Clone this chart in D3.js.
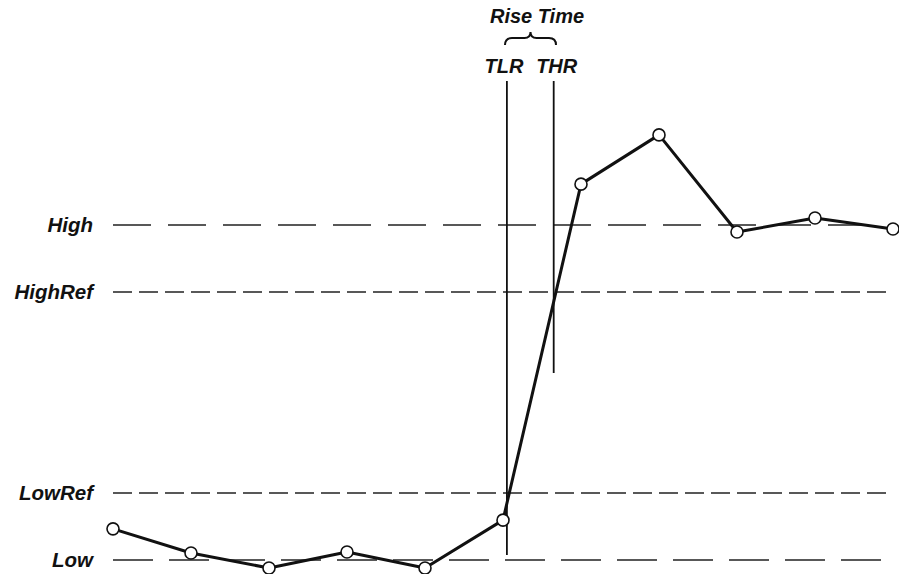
<!DOCTYPE html>
<html>
<head>
<meta charset="utf-8">
<script src="https://cdn.jsdelivr.net/npm/d3@7"></script>
<style>
  body { margin: 0; background: #fff; }
  text { font-family: "Liberation Sans", Arial, sans-serif; font-weight: bold; font-style: italic; fill: #111; }
</style>
</head>
<body>
<div id="chart"></div>
<script>
// sample values (Low = 0, High = 100)
var samples = [9.3, 2.1, -2.4, 2.4, -2.4, 11.9, 112.2, 126.9, 97.9, 102.1, 98.8];

// reference levels
var levelNames = ["High", "HighRef", "LowRef", "Low"];
var levelValues = [100, 80, 20, 0];
var levelDash = ["38,17", "19,7", "19,7", "40,16"];

// time markers (sample index units) and their lower ends
var markerNames = ["TLR", "THR"];
var markerTimes = [5.05, 5.65];
var markerBottoms = [1.5, 55.8];
var markerTop = 143;

var w = 899, h = 574;

var svg = d3.select("#chart").append("svg")
  .attr("width", w)
  .attr("height", h);

var x = d3.scaleLinear().domain([0, 10]).range([113, 893]);
var y = d3.scaleLinear().domain([0, 100]).range([560, 225]);

// dashed level lines
levelNames.forEach(function(name, i) {
  svg.append("line")
    .attr("x1", x(0))
    .attr("x2", x(10) - (i == 0 ? 12 : i == 3 ? 8 : 0))
    .attr("y1", y(levelValues[i]))
    .attr("y2", y(levelValues[i]))
    .attr("stroke", "#222")
    .attr("stroke-width", 1.3)
    .attr("stroke-dasharray", levelDash[i]);

  svg.append("text")
    .attr("x", 93)
    .attr("y", y(levelValues[i]))
    .attr("dy", "0.36em")
    .attr("text-anchor", "end")
    .style("font-size", "20.5px")
    .text(name);
});

// vertical marker lines
markerNames.forEach(function(name, i) {
  svg.append("line")
    .attr("x1", x(markerTimes[i]))
    .attr("x2", x(markerTimes[i]))
    .attr("y1", y(markerTop))
    .attr("y2", y(markerBottoms[i]))
    .attr("stroke", "#111")
    .attr("stroke-width", 1.8);
});

svg.append("text")
  .attr("x", x(markerTimes[0]) - 3)
  .attr("y", 73)
  .attr("text-anchor", "middle")
  .style("font-size", "20px")
  .text(markerNames[0]);

svg.append("text")
  .attr("x", x(markerTimes[1]) + 3)
  .attr("y", 73)
  .attr("text-anchor", "middle")
  .style("font-size", "20px")
  .text(markerNames[1]);

// brace + title
var bx0 = 505, bx1 = 556, bm = (bx0 + bx1) / 2, by = 45;
svg.append("path")
  .attr("d", "M" + bx0 + "," + by +
    " Q" + bx0 + "," + (by - 7) + " " + (bx0 + 7) + "," + (by - 7) +
    " L" + (bm - 6) + "," + (by - 7) +
    " Q" + bm + "," + (by - 7) + " " + bm + "," + (by - 13) +
    " Q" + bm + "," + (by - 7) + " " + (bm + 6) + "," + (by - 7) +
    " L" + (bx1 - 7) + "," + (by - 7) +
    " Q" + bx1 + "," + (by - 7) + " " + bx1 + "," + by)
  .attr("fill", "none")
  .attr("stroke", "#111")
  .attr("stroke-width", 2);

svg.append("text")
  .attr("x", 537)
  .attr("y", 23)
  .attr("text-anchor", "middle")
  .style("font-size", "20px")
  .text("Rise Time");

// waveform
var line = d3.line()
  .x(function(d, i) { return x(i); })
  .y(function(d) { return y(d); });

svg.append("path")
  .datum(samples)
  .attr("fill", "none")
  .attr("stroke", "#111")
  .attr("stroke-width", 3)
  .attr("stroke-linejoin", "round")
  .attr("d", line);

svg.selectAll(".dot")
  .data(samples)
  .enter().append("circle")
  .attr("class", "dot")
  .attr("cx", function(d, i) { return x(i); })
  .attr("cy", function(d) { return y(d); })
  .attr("r", 6)
  .attr("fill", "#fff")
  .attr("stroke", "#111")
  .attr("stroke-width", 1.6);
</script>
</body>
</html>
